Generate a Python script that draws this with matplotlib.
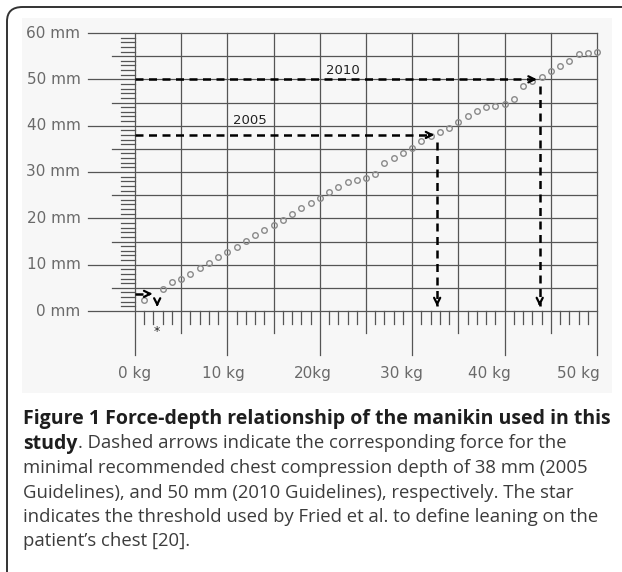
"""
Force-depth relationship of the manikin (Figure 1)
"""

import numpy as np
import matplotlib
matplotlib.use("Agg")
import matplotlib.pyplot as plt
from matplotlib.patches import FancyBboxPatch, Rectangle

# Force (kg) and depth (mm)
force_kg = [1] + list(range(3, 51))
depth_mm = [2.4, 4.75, 6.2, 6.9, 8.0, 9.2, 10.4, 11.6, 12.7, 13.9,
            15.2, 16.3, 17.5, 18.6, 19.7, 21.0, 22.2, 23.3, 24.4, 25.6,
            26.7, 27.9, 28.2, 28.8, 29.5, 31.9, 33.0, 34.2, 35.2, 36.6,
            37.7, 38.6, 39.6, 40.8, 42.0, 43.1, 44.0, 44.3, 44.7, 45.7,
            48.6, 49.7, 50.6, 51.8, 52.8, 53.9, 55.5, 55.7, 55.8]

y_ticks = [0, 10, 20, 30, 40, 50, 60]
y_labels = ["0 mm", "10 mm", "20 mm", "30 mm", "40 mm", "50 mm", "60 mm"]
x_ticks = [0, 10, 20, 30, 40, 50]
x_labels = ["0 kg", "10 kg", "20kg", "30 kg", "40 kg", "50 kg"]

# guideline depths and the forces they need
guide_years = ["2005", "2010"]
guide_depth = [38, 50]
guide_force = [32.7, 43.8]
# leaning threshold (star)
lean_force = 2.3
lean_depth = 3.7

W, H = 622, 572
fig = plt.figure(figsize=(W / 100, H / 100), dpi=100)

# frame and shaded plot region
fig.patches.append(FancyBboxPatch((7 / W, -20 / H), 660 / W, (H - 7 + 20) / H,
                                  boxstyle="round,pad=0,rounding_size=0.025",
                                  transform=fig.transFigure, fill=False,
                                  ec="#333333", lw=1.4))
fig.patches.append(Rectangle((22 / W, 1 - 393 / H), 590 / W, 375 / H,
                             transform=fig.transFigure, fc="#f7f7f7", ec="none",
                             zorder=-1))

ax = fig.add_axes([135 / W, 1 - 311 / H, 462 / W, 278 / H])
ax.set_xlim(0, 50)
ax.set_ylim(0, 60)
ax.axis("off")

grid = dict(color="#555555", lw=0.9, clip_on=False, zorder=1)

# grid every 5 kg / 5 mm
for y in range(0, 61, 5):
    x0 = -5.1 if y % 10 == 0 else -2.5
    ax.plot([x0, 50], [y, y], **grid)
for x in range(0, 51, 5):
    y0 = -9.6 if x % 10 == 0 else -4.8
    ax.plot([x, x], [y0, 60], **grid)

# minor ticks
for y in range(0, 61):
    if y % 5:
        ax.plot([-1.5, 0], [y, y], **grid)
for x in range(0, 51):
    if x % 5:
        ax.plot([x, x], [-2.8, 0], **grid)

# tick labels
for y, lab in zip(y_ticks, y_labels):
    ax.text(-5.9, y, lab, ha="right", va="center", fontsize=11,
            color="#6a6a6a", family="DejaVu Sans")
for x, lab in zip(x_ticks, x_labels):
    ax.text(x - 0.4 * x / 10, -13.4, lab, ha="center", va="center", fontsize=11,
            color="#6a6a6a", family="DejaVu Sans")

# measured points
ax.plot(force_kg, depth_mm, "o", ms=4, mfc="none", mec="#8a8a8a", mew=1.0,
        clip_on=False, zorder=3)

dash = dict(color="black", lw=1.8, ls=(0, (3.2, 2.2)), clip_on=False, zorder=4)
head = dict(arrowstyle="->", color="black", lw=1.6, mutation_scale=11)

for year, d, f in zip(guide_years, guide_depth, guide_force):
    ax.plot([0, f - 0.6], [d, d], **dash)
    ax.annotate("", xy=(f, d), xytext=(f - 1.2, d), arrowprops=head, zorder=5)
    ax.plot([f, f], [d - 1.5, 1.0], **dash)
    ax.annotate("", xy=(f, 0.4), xytext=(f, 2.5), arrowprops=head, zorder=5)

ax.text(12.4, 41.2, guide_years[0], ha="center", va="center", fontsize=9.5,
        family="DejaVu Sans", color="#222222")
ax.text(22.5, 52.0, guide_years[1], ha="center", va="center", fontsize=9.5,
        family="DejaVu Sans", color="#222222")

# leaning threshold arrows and star
ax.plot([0, lean_force - 0.8], [lean_depth, lean_depth], **dash)
ax.annotate("", xy=(lean_force - 0.1, lean_depth), xytext=(lean_force - 1.2, lean_depth),
            arrowprops=head, zorder=5)
ax.annotate("", xy=(lean_force + 0.1, 0.3), xytext=(lean_force + 0.1, 2.3),
            arrowprops=head, zorder=5)
ax.text(lean_force + 0.1, -4.4, "*", ha="center", va="center", fontsize=9,
        color="#222222")

# caption
cap = dict(family="Open Sans", va="baseline", transform=fig.transFigure)
lx = 23 / W
base = [424, 448.5, 473, 497.5, 522, 546.5]
fig.text(lx, 1 - base[0] / H, "Figure 1 Force-depth relationship of the manikin used in this",
         weight="bold", color="#1e1e1e", fontsize=14.0, **cap)
t = fig.text(lx, 1 - base[1] / H, "study", weight="bold", color="#1e1e1e",
             fontsize=14.0, **cap)
fig.canvas.draw()
bb = t.get_window_extent()
fig.text(bb.x1 / W, 1 - base[1] / H,
         ". Dashed arrows indicate the corresponding force for the",
         color="#3c3c3c", fontsize=13.3, **cap)
rest = ["minimal recommended chest compression depth of 38 mm (2005",
        "Guidelines), and 50 mm (2010 Guidelines), respectively. The star",
        "indicates the threshold used by Fried et al. to define leaning on the",
        "patient\u2019s chest [20]."]
for b, line in zip(base[2:], rest):
    fig.text(lx, 1 - b / H, line, color="#3c3c3c", fontsize=13.3, **cap)

fig.savefig("out.png", dpi=100)
